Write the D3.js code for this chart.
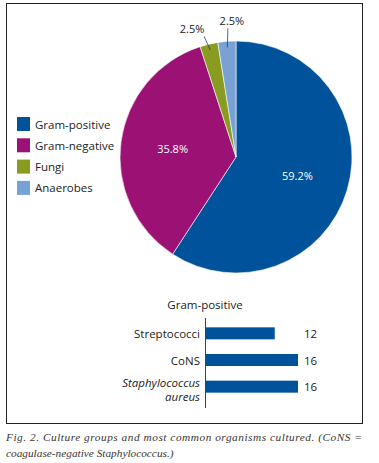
<!DOCTYPE html>
<html>
<head>
<meta charset="utf-8">
<script src="https://cdn.jsdelivr.net/npm/d3@7"></script>
<style>
  html, body { margin: 0; padding: 0; background: #fff; }
  svg { display: block; }
  text { font-family: "Open Sans", "Noto Sans", sans-serif; }
  text.caption { font-family: "Liberation Serif", "DejaVu Serif", serif; font-style: italic; font-size: 11.3px; }
</style>
</head>
<body>
<div id="chart"></div>
<script>
// culture groups (pie)
const groups = ["Gram-positive", "Gram-negative", "Fungi", "Anaerobes"];
const groupPct = [59.2, 35.8, 2.5, 2.5];
const groupColors = ["#00529b", "#9b1174", "#8a9b22", "#78a1d4"];

// most common gram-positive organisms (bars)
const organisms = ["Streptococci", "CoNS", "Staphylococcus aureus"];
const orgCounts = [12, 16, 16];

const width = 379, height = 463;

const svg = d3.select("#chart").append("svg")
  .attr("width", width)
  .attr("height", height);

// frame
svg.append("rect")
  .attr("x", 6.5).attr("y", 3.5)
  .attr("width", 356).attr("height", 420)
  .attr("fill", "none")
  .attr("stroke", "#222")
  .attr("stroke-width", 1);

// ---- pie ----
const cx = 236, cy = 157, radius = 116;
const pieData = groups.map((g, i) => ({ name: g, value: groupPct[i], color: groupColors[i] }));

const pie = d3.pie().sort(null).value(d => d.value);
const arc = d3.arc().innerRadius(0).outerRadius(radius);
const labelArc = d3.arc().innerRadius(64).outerRadius(64);

const pieG = svg.append("g").attr("transform", `translate(${cx},${cy})`);
const arcs = pie(pieData);

pieG.selectAll("path")
  .data(arcs)
  .enter().append("path")
  .attr("d", arc)
  .attr("fill", d => d.data.color)
  .attr("stroke", "#fff")
  .attr("stroke-width", 0.6);

// big slices: label inside
arcs.filter(d => d.data.value > 10).forEach(d => {
  const [x, y] = labelArc.centroid(d);
  pieG.append("text")
    .attr("x", x).attr("y", y)
    .attr("text-anchor", "middle")
    .attr("dominant-baseline", "central")
    .attr("fill", "#fff")
    .attr("font-size", "11px")
    .text(d3.format(".1f")(d.data.value) + "%");
});

// small slices: leader line + label outside
const smallOffsets = [-12, 4];
arcs.filter(d => d.data.value < 10).forEach((d, i) => {
  const a = (d.startAngle + d.endAngle) / 2;
  const p1 = [Math.sin(a) * (radius - 6), -Math.cos(a) * (radius - 6)];
  const r2 = radius + (i === 0 ? 8 : 13);
  const p2 = [Math.sin(a) * r2 + (i === 0 ? -3 : 2), -Math.cos(a) * r2];
  pieG.append("line")
    .attr("x1", p1[0]).attr("y1", p1[1])
    .attr("x2", p2[0]).attr("y2", p2[1])
    .attr("stroke", "#1f3f7a")
    .attr("stroke-width", 0.8);
  pieG.append("text")
    .attr("x", p2[0] + smallOffsets[i])
    .attr("y", p2[1] - 3)
    .attr("text-anchor", "middle")
    .attr("fill", "#222")
    .attr("font-size", "11px")
    .text(d3.format(".1f")(d.data.value) + "%");
});

// legend
const legend = svg.append("g").attr("transform", "translate(17,117)");
const leg = legend.selectAll("g")
  .data(pieData)
  .enter().append("g")
  .attr("transform", (d, i) => `translate(0,${i * 21.3})`);
leg.append("rect")
  .attr("width", 13).attr("height", 14)
  .attr("fill", d => d.color);
leg.append("text")
  .attr("x", 18).attr("y", 7)
  .attr("dominant-baseline", "central")
  .attr("font-size", "11.5px")
  .attr("fill", "#222")
  .text(d => d.name);

// ---- bar chart ----
svg.append("text")
  .attr("x", 205).attr("y", 309)
  .attr("text-anchor", "middle")
  .attr("font-size", "11.5px")
  .attr("fill", "#222")
  .text("Gram-positive");

const barLeft = 205;
const x = d3.scaleLinear().domain([0, 16]).range([0, 93]);
const y = d3.scaleBand().domain(organisms).range([318, 402]).paddingInner(0.55).paddingOuter(0.35);

const barG = svg.append("g").attr("transform", `translate(${barLeft},0)`);

barG.selectAll("rect")
  .data(organisms)
  .enter().append("rect")
  .attr("x", 0)
  .attr("y", d => y(d))
  .attr("width", (d, i) => x(orgCounts[i]))
  .attr("height", y.bandwidth())
  .attr("fill", "#00529b");

barG.append("line")
  .attr("x1", 0.5).attr("x2", 0.5)
  .attr("y1", 318).attr("y2", 408)
  .attr("stroke", "#00529b")
  .attr("stroke-width", 1);

barG.selectAll(".val")
  .data(organisms)
  .enter().append("text")
  .attr("class", "val")
  .attr("x", 99)
  .attr("y", d => y(d) + y.bandwidth() / 2)
  .attr("dominant-baseline", "central")
  .attr("font-size", "11.5px")
  .attr("fill", "#222")
  .text((d, i) => orgCounts[i]);

// category labels
organisms.forEach(name => {
  const yc = y(name) + y.bandwidth() / 2;
  if (name.startsWith("Staphylococcus")) {
    const t = barG.append("text")
      .attr("x", -5)
      .attr("text-anchor", "end")
      .attr("font-size", "11.5px")
      .attr("font-style", "italic")
      .attr("fill", "#222");
    t.append("tspan").attr("x", -5).attr("y", yc + 0).text("Staphylococcus");
    t.append("tspan").attr("x", -5).attr("y", yc + 14).text("aureus");
  } else {
    barG.append("text")
      .attr("x", -5)
      .attr("y", yc)
      .attr("text-anchor", "end")
      .attr("dominant-baseline", "central")
      .attr("font-size", "11.5px")
      .attr("fill", "#222")
      .text(name);
  }
});

// caption
svg.append("text")
  .attr("class", "caption")
  .attr("x", 6).attr("y", 441)
  .attr("textLength", 356)
  .attr("lengthAdjust", "spacing")
  .attr("fill", "#3a3530")
  .text("Fig. 2. Culture groups and most common organisms cultured. (CoNS =");
svg.append("text")
  .attr("class", "caption")
  .attr("x", 6).attr("y", 457)
  .attr("fill", "#3a3530")
  .text("coagulase-negative Staphylococcus.)");
</script>
</body>
</html>
